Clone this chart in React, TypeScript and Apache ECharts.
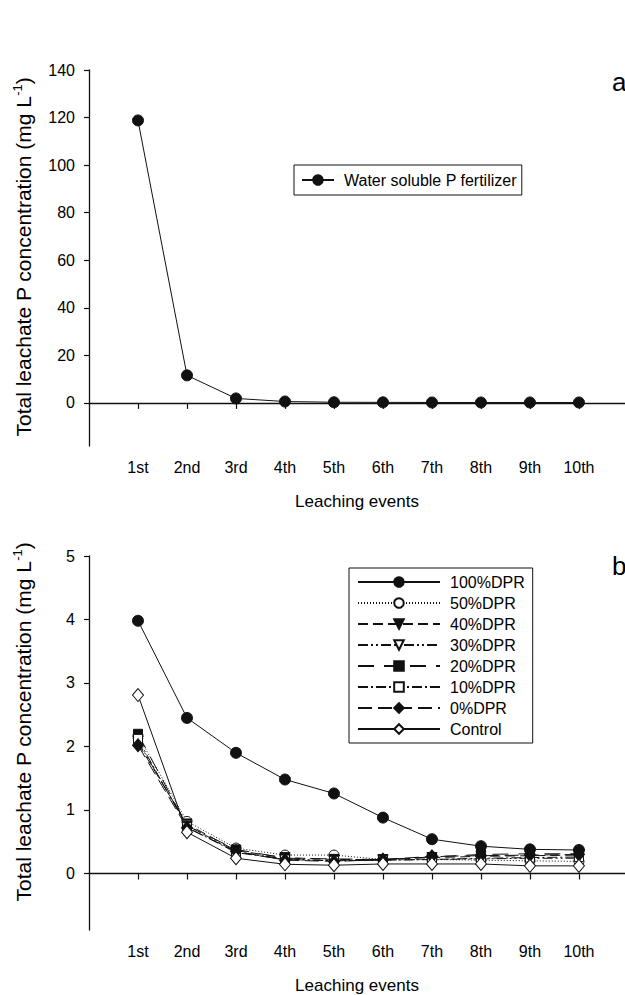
import React, { useEffect, useRef } from "react";
import * as echarts from "echarts";

const categories = ["1st", "2nd", "3rd", "4th", "5th", "6th", "7th", "8th", "9th", "10th"];
const topTicks = [0, 20, 40, 60, 80, 100, 120, 140];
const bottomTicks = [0, 1, 2, 3, 4, 5];

const waterSoluble = [118.8, 11.6, 1.9, 0.6, 0.3, 0.25, 0.2, 0.2, 0.2, 0.2];

const dpr100 = [3.98, 2.45, 1.9, 1.48, 1.26, 0.88, 0.54, 0.43, 0.38, 0.37];
const dpr50 = [2.17, 0.82, 0.4, 0.29, 0.29, 0.22, 0.22, 0.21, 0.2, 0.19];
const dpr40 = [2.05, 0.78, 0.36, 0.25, 0.22, 0.22, 0.25, 0.27, 0.28, 0.29];
const dpr30 = [2.08, 0.76, 0.34, 0.23, 0.2, 0.21, 0.22, 0.23, 0.24, 0.24];
const dpr20 = [2.2, 0.75, 0.38, 0.24, 0.23, 0.22, 0.26, 0.3, 0.31, 0.31];
const dpr10 = [2.12, 0.73, 0.33, 0.22, 0.2, 0.21, 0.22, 0.24, 0.25, 0.26];
const dpr0 = [2.02, 0.72, 0.35, 0.21, 0.19, 0.22, 0.27, 0.28, 0.29, 0.3];
const control = [2.81, 0.65, 0.24, 0.145, 0.13, 0.15, 0.15, 0.15, 0.12, 0.12];

const FONT = "'Liberation Sans', Arial, sans-serif";
const INK = "#111";

const toPairs = (arr: number[]) => arr.map((v, i) => [i + 1, v]);
const xPositions = categories.map((_, i) => i + 1);

export default function App() {
  const ref = useRef<HTMLDivElement>(null);

  useEffect(() => {
    if (!ref.current) return;
    const chart = echarts.init(ref.current, null, { renderer: "svg" });

    const makeX = (gridIndex: number) => ({
      type: "value",
      gridIndex,
      min: 0,
      max: 10.94,
      name: "Leaching events",
      nameLocation: "middle",
      nameGap: 47,
      nameTextStyle: { fontSize: 17, color: "#000", fontFamily: FONT },
      axisLine: { show: true, lineStyle: { color: INK, width: 1.3 } },
      axisTick: { show: true, customValues: xPositions, length: 6, lineStyle: { color: INK, width: 1.2 } },
      axisLabel: {
        customValues: xPositions,
        formatter: (v: number) => categories[Math.round(v) - 1] ?? "",
        fontSize: 16,
        color: "#000",
        fontFamily: FONT,
        margin: 13,
      },
      splitLine: { show: false },
    });

    const makeY = (gridIndex: number, min: number, max: number, ticks: number[]) => ({
      type: "value",
      gridIndex,
      min,
      max,
      axisLine: { show: true, lineStyle: { color: INK, width: 1.3 } },
      axisTick: { show: true, customValues: ticks, length: 5, lineStyle: { color: INK, width: 1.2 } },
      axisLabel: { customValues: ticks, fontSize: 16, color: "#000", fontFamily: FONT, margin: 14 },
      splitLine: { show: false },
    });

    const lineSeries = (
      name: string,
      data: number[],
      symbol: string,
      filled: boolean,
      type: any,
      size: number | number[] = 10,
      rotate = 0,
      xi = 1
    ) => ({
      name,
      type: "line",
      xAxisIndex: xi,
      yAxisIndex: xi,
      data: toPairs(data),
      symbol,
      symbolSize: size,
      symbolRotate: rotate,
      lineStyle: { color: INK, width: 1, type },
      itemStyle: { color: filled ? INK : "#fff", borderColor: INK, borderWidth: 1 },
      z: 3,
    });

    const yTitle = (cy: number) => ({
      type: "text",
      x: 23,
      y: cy,
      rotation: Math.PI / 2,
      style: {
        text: "{a|Total leachate P concentration (mg L}{s|-1}{a|)}",
        align: "center",
        verticalAlign: "middle",
        fill: "#000",
        rich: {
          a: { fontSize: 21, fontFamily: FONT, fill: "#000", lineHeight: 25 },
          s: { fontSize: 13, fontFamily: FONT, fill: "#000", lineHeight: 13, verticalAlign: "top" },
        },
      },
    });

    const option: any = {
      animation: false,
      backgroundColor: "#fff",
      textStyle: { fontFamily: FONT },
      grid: [
        { left: 89, right: 0, top: 70, height: 376 },
        { left: 89, right: 0, top: 556, height: 374 },
      ],
      xAxis: [makeX(0), makeX(1)],
      yAxis: [makeY(0, -18.1, 140, topTicks), makeY(1, -0.89, 5, bottomTicks)],
      legend: [
        {
          data: ["Water soluble P fertilizer"],
          left: 294,
          top: 165,
          orient: "vertical",
          itemWidth: 32,
          itemHeight: 12,
          itemGap: 10,
          padding: [7, 5, 7, 7],
          borderColor: INK,
          borderWidth: 1,
          textStyle: { fontSize: 16, color: "#000", fontFamily: FONT, padding: [0, 0, 0, 5] },
        },
        {
          data: ["100%DPR", "50%DPR", "40%DPR", "30%DPR", "20%DPR", "10%DPR", "0%DPR", "Control"],
          left: 349,
          top: 568,
          orient: "vertical",
          itemWidth: 82,
          itemHeight: 12,
          itemGap: 5,
          padding: [6, 8, 6, 8],
          borderColor: INK,
          borderWidth: 1,
          textStyle: { fontSize: 16, color: "#000", fontFamily: FONT, padding: [0, 0, 0, 5] },
        },
      ],
      graphic: [
        yTitle(257),
        yTitle(722),
        {
          type: "text",
          x: 612,
          y: 82,
          style: { text: "a", fontSize: 26, fontFamily: FONT, fill: "#000", verticalAlign: "middle" },
        },
        {
          type: "text",
          x: 612,
          y: 566,
          style: { text: "b", fontSize: 26, fontFamily: FONT, fill: "#000", verticalAlign: "middle" },
        },
      ],
      series: [
        lineSeries("Water soluble P fertilizer", waterSoluble, "circle", true, "solid", 11, 0, 0),
        lineSeries("100%DPR", dpr100, "circle", true, "solid", 11),
        lineSeries("50%DPR", dpr50, "circle", false, [1, 2], 10),
        lineSeries("40%DPR", dpr40, "triangle", true, [10, 5], 10, 180),
        lineSeries("30%DPR", dpr30, "triangle", false, [10, 3, 2, 3, 2, 3], 10, 180),
        lineSeries("20%DPR", dpr20, "rect", true, [16, 10], 9),
        lineSeries("10%DPR", dpr10, "rect", false, [10, 3, 2, 3], 9),
        lineSeries("0%DPR", dpr0, "diamond", true, [14, 6], [11, 13]),
        lineSeries("Control", control, "diamond", false, "solid", [11, 13]),
      ],
    };

    chart.setOption(option);
    return () => chart.dispose();
  }, []);

  return (
    <div
      ref={ref}
      style={{ position: "absolute", left: 0, top: 0, width: 625, height: 995, background: "#fff" }}
    />
  );
}
